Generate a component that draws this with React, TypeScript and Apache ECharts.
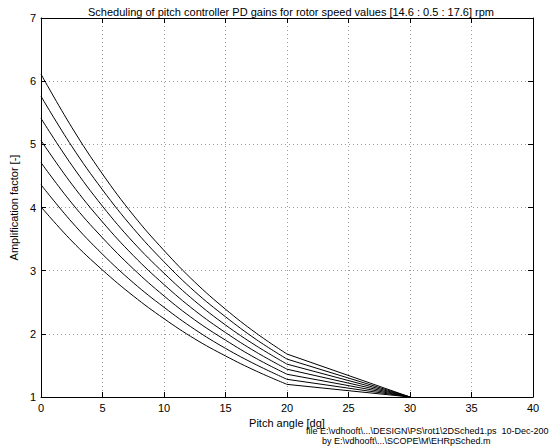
import React, { useEffect, useRef } from "react";
import * as echarts from "echarts";

// Pitch angle samples on the curved part, and the straight tail to 30 dg
const pitchCurve = [0, 2.5, 5, 7.5, 10, 12.5, 15, 17.5, 20];
const pitchTail = [20, 30];
const tailEndValue = 1.0;

// Amplification factor per rotor speed [rpm]
const rpm146 = [4.01, 3.47, 3.01, 2.6, 2.24, 1.92, 1.65, 1.41, 1.2];
const rpm151 = [4.36, 3.77, 3.26, 2.81, 2.42, 2.07, 1.77, 1.51, 1.28];
const rpm156 = [4.71, 4.07, 3.52, 3.03, 2.6, 2.22, 1.9, 1.61, 1.36];
const rpm161 = [5.06, 4.37, 3.77, 3.24, 2.78, 2.37, 2.02, 1.71, 1.44];
const rpm166 = [5.41, 4.67, 4.02, 3.45, 2.96, 2.52, 2.14, 1.81, 1.52];
const rpm171 = [5.76, 4.97, 4.28, 3.67, 3.14, 2.67, 2.27, 1.91, 1.6];
const rpm176 = [6.11, 5.27, 4.53, 3.88, 3.32, 2.82, 2.39, 2.01, 1.68];

const curves = [rpm146, rpm151, rpm156, rpm161, rpm166, rpm171, rpm176];
const curveNames = ["14.6", "15.1", "15.6", "16.1", "16.6", "17.1", "17.6"];

const titleText =
  "Scheduling of pitch controller PD gains for rotor speed values [14.6 : 0.5 : 17.6] rpm";
const xName = "Pitch angle [dg]";
const yName = "Amplification factor [-]";
const footer1 = "file E:\\vdhooft\\...\\DESIGN\\PS\\rot1\\2DSched1.ps  10-Dec-200";
const footer2 = "by E:\\vdhooft\\...\\SCOPE\\M\\EHRpSched.m";

const FONT = "'Liberation Sans', Arial, Helvetica, sans-serif";

export default function App() {
  const ref = useRef<HTMLDivElement>(null);

  useEffect(() => {
    if (!ref.current) return;
    const chart = echarts.init(ref.current, undefined, { renderer: "svg" });

    const series: any[] = [];
    curves.forEach((vals, i) => {
      series.push({
        name: curveNames[i],
        type: "line",
        data: pitchCurve.map((x, j) => [x, vals[j]]),
        smooth: 0.4,
        showSymbol: false,
        symbol: "none",
        lineStyle: { color: "#000", width: 1 },
        itemStyle: { color: "#000" },
        xAxisIndex: 0,
        yAxisIndex: 0,
      });
      series.push({
        name: curveNames[i] + " tail",
        type: "line",
        data: [
          [pitchTail[0], vals[vals.length - 1]],
          [pitchTail[1], tailEndValue],
        ],
        showSymbol: false,
        symbol: "none",
        lineStyle: { color: "#000", width: 1 },
        itemStyle: { color: "#000" },
        xAxisIndex: 0,
        yAxisIndex: 0,
      });
    });

    const axisLine = { show: true, onZero: false, lineStyle: { color: "#000", width: 1 } };
    const tick = { show: true, inside: true, length: 5, lineStyle: { color: "#000" } };
    const split = { show: true, lineStyle: { color: "#9a9a9a", type: [1, 3], width: 1 } };
    const label = { color: "#000", fontFamily: FONT, fontSize: 11 };

    chart.setOption({
      animation: false,
      backgroundColor: "#fff",
      title: {
        text: titleText,
        left: 286,
        top: 1,
        textAlign: "center",
        textStyle: { fontFamily: FONT, fontSize: 11, fontWeight: "normal", color: "#000" },
      },
      grid: { left: 39, right: 16, top: 18, bottom: 51, containLabel: false },
      xAxis: [
        {
          type: "value",
          position: "bottom",
          min: 0,
          max: 40,
          interval: 5,
          axisLine,
          axisTick: tick,
          splitLine: split,
          axisLabel: { ...label, margin: 5 },
          name: xName,
          nameLocation: "middle",
          nameGap: 18,
          nameTextStyle: { fontFamily: FONT, fontSize: 11, color: "#000" },
        },
        {
          type: "value",
          position: "top",
          min: 0,
          max: 40,
          interval: 5,
          axisLine,
          axisTick: tick,
          splitLine: { show: false },
          axisLabel: { show: false },
        },
      ],
      yAxis: [
        {
          type: "value",
          position: "left",
          min: 1,
          max: 7,
          interval: 1,
          axisLine,
          axisTick: tick,
          splitLine: split,
          axisLabel: { ...label, margin: 5 },
          name: yName,
          nameLocation: "middle",
          nameGap: 16,
          nameRotate: 90,
          nameTextStyle: { fontFamily: FONT, fontSize: 11, color: "#000" },
        },
        {
          type: "value",
          position: "right",
          min: 1,
          max: 7,
          interval: 1,
          axisLine,
          axisTick: tick,
          splitLine: { show: false },
          axisLabel: { show: false },
        },
      ],
      graphic: [
        {
          type: "text",
          x: 306,
          y: 431,
          style: {
            text: footer1,
            fontFamily: FONT,
            fontSize: 9,
            fill: "#000",
            textVerticalAlign: "middle",
          },
        },
        {
          type: "text",
          x: 322,
          y: 441,
          style: {
            text: footer2,
            fontFamily: FONT,
            fontSize: 9,
            fill: "#000",
            textVerticalAlign: "middle",
          },
        },
      ],
      series,
    });

    return () => chart.dispose();
  }, []);

  return (
    <div
      ref={ref}
      style={{ position: "fixed", left: 0, top: 0, width: 549, height: 448, background: "#fff" }}
    />
  );
}
